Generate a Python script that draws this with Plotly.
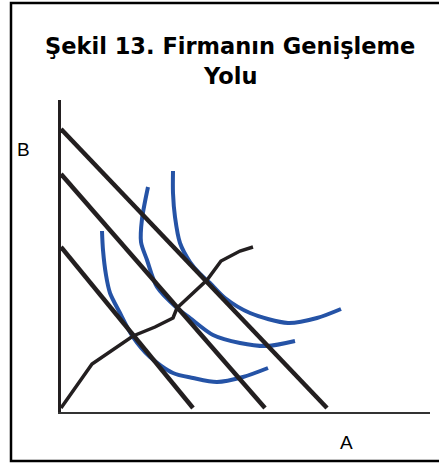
import plotly.graph_objects as go

# Isocost lines (A, B) endpoints
iso1_a = [0, 13.2]
iso1_b = [16.5, 0.4]
iso2_a = [0, 20.4]
iso2_b = [23.8, 0.4]
iso3_a = [0, 26.6]
iso3_b = [28.3, 0.4]

# Isoquants
q1_a = [4.1, 4.2, 4.5, 4.9, 5.9, 7.2, 8.9, 11.2, 13.2, 15.6, 18.2, 20.7]
q1_b = [18.1, 16.2, 13.7, 11.9, 9.9, 7.5, 5.5, 3.9, 3.4, 3.0, 3.5, 4.4]
q2_a = [8.7, 8.1, 8.0, 8.6, 9.6, 11.6, 12.9, 15.2, 17.9, 20.6, 23.4]
q2_b = [22.5, 19.3, 17.0, 15.2, 12.5, 10.4, 9.4, 7.7, 6.9, 6.6, 7.1]
q3_a = [11.2, 11.2, 11.4, 11.9, 12.9, 13.9, 14.9, 16.4, 18.9, 22.7, 25.6, 28.0]
q3_b = [24.1, 21.9, 19.5, 16.9, 15.0, 13.8, 12.9, 11.4, 9.9, 8.9, 9.4, 10.3]

# Expansion path
path_a = [0, 3.1, 7.2, 9.4, 11.2, 11.6, 14.6, 15.6, 16.0, 17.9, 19.2]
path_b = [0.4, 4.8, 7.6, 8.5, 9.4, 10.4, 13.2, 14.6, 15.1, 16.1, 16.5]

title_l1 = "Şekil 13. Firmanın Genişleme"
title_l2 = "Yolu"
x_label = "A"
y_label = "B"

BLUE = "#2553a6"
BLACK = "#231f20"

fig = go.Figure()
for qa, qb in [(q1_a, q1_b), (q2_a, q2_b), (q3_a, q3_b)]:
    fig.add_trace(go.Scatter(x=qa, y=qb, mode="lines", line=dict(color=BLUE, width=4, shape="spline", smoothing=0.8),
                             hoverinfo="skip", showlegend=False))
for ia, ib in [(iso1_a, iso1_b), (iso2_a, iso2_b), (iso3_a, iso3_b)]:
    fig.add_trace(go.Scatter(x=ia, y=ib, mode="lines", line=dict(color=BLACK, width=4.5),
                             hoverinfo="skip", showlegend=False))
fig.add_trace(go.Scatter(x=path_a, y=path_b, mode="lines", line=dict(color=BLACK, width=3.5),
                         hoverinfo="skip", showlegend=False))

W, H = 439, 463
L, R, T, B = 61, 9, 100, 51
pw, ph = W - L - R, H - T - B


def px(x):
    return (x - L) / pw


def py(y):
    return (H - B - y) / ph


fig.update_layout(
    width=W, height=H, autosize=False,
    margin=dict(l=L, r=R, t=T, b=B, pad=0),
    paper_bgcolor="white", plot_bgcolor="white",
    xaxis=dict(range=[0, 36.9], showgrid=False, zeroline=False, showticklabels=False, ticks="",
               showline=True, linecolor="#333333", linewidth=2, fixedrange=True),
    yaxis=dict(range=[0, 31.2], showgrid=False, zeroline=False, showticklabels=False, ticks="",
               showline=True, linecolor=BLACK, linewidth=2.5, fixedrange=True),
    shapes=[dict(type="rect", xref="paper", yref="paper", x0=px(11), x1=px(441), y0=py(461), y1=py(3),
                 line=dict(color="black", width=2.5), fillcolor="rgba(0,0,0,0)", layer="above")],
    annotations=[
        dict(text="<b>" + title_l1 + "</b>", x=px(230), y=py(46), xref="paper", yref="paper",
             xanchor="center", yanchor="middle", showarrow=False,
             font=dict(family="DejaVu Sans", size=22.5, color="black")),
        dict(text="<b>" + title_l2 + "</b>", x=px(230), y=py(76), xref="paper", yref="paper",
             xanchor="center", yanchor="middle", showarrow=False,
             font=dict(family="DejaVu Sans", size=22.5, color="black")),
        dict(text=y_label, x=px(23), y=py(149), xref="paper", yref="paper",
             xanchor="center", yanchor="middle", showarrow=False,
             font=dict(family="Liberation Sans", size=19, color="black")),
        dict(text=x_label, x=px(346), y=py(442), xref="paper", yref="paper",
             xanchor="center", yanchor="middle", showarrow=False,
             font=dict(family="Liberation Sans", size=19, color="black")),
    ],
)

fig.write_html("out.html", config={"displayModeBar": False},
               post_script="document.body.style.margin='0';document.body.style.padding='0';")
